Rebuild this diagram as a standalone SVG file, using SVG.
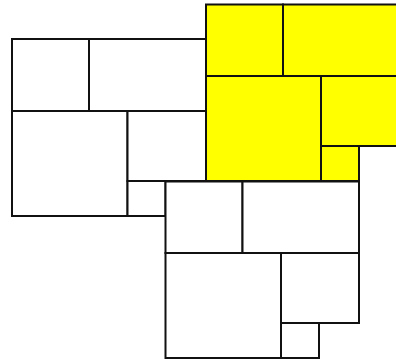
<svg xmlns="http://www.w3.org/2000/svg" width="396" height="360" viewBox="0 0 396 360">
<style>
rect{stroke:#111;stroke-width:2;fill:#fff}
.y rect{fill:#ffff00}
</style>
<rect x="0" y="0" width="396" height="360" style="fill:#fff;stroke:none"/>
<g id="left">
<rect id="l1" x="12" y="39" width="77" height="72"/>
<rect id="l2" x="89" y="39" width="117" height="72"/>
<rect id="l3" x="12" y="111" width="115.5" height="105"/>
<rect id="l4" x="127.5" y="111" width="78.5" height="70"/>
<rect id="l5" x="127.5" y="181" width="38" height="35"/>
</g>
<g id="bottom">
<rect id="b1" x="165.5" y="181.5" width="77" height="71.5"/>
<rect id="b2" x="242.5" y="181.5" width="116.5" height="71.5"/>
<rect id="b3" x="165.5" y="253" width="115.5" height="105"/>
<rect id="b4" x="281" y="253" width="78" height="70"/>
<rect id="b5" x="281" y="323" width="38" height="35"/>
</g>
<g id="yellow" class="y">
<rect id="y1" x="206" y="4.5" width="77" height="71.5"/>
<rect id="y2" x="283" y="4.5" width="117" height="71.5"/>
<rect id="y3" x="206" y="76" width="115" height="105"/>
<rect id="y4" x="321" y="76" width="79" height="70"/>
<rect id="y5" x="321" y="146" width="38" height="35"/>
</g>
</svg>
